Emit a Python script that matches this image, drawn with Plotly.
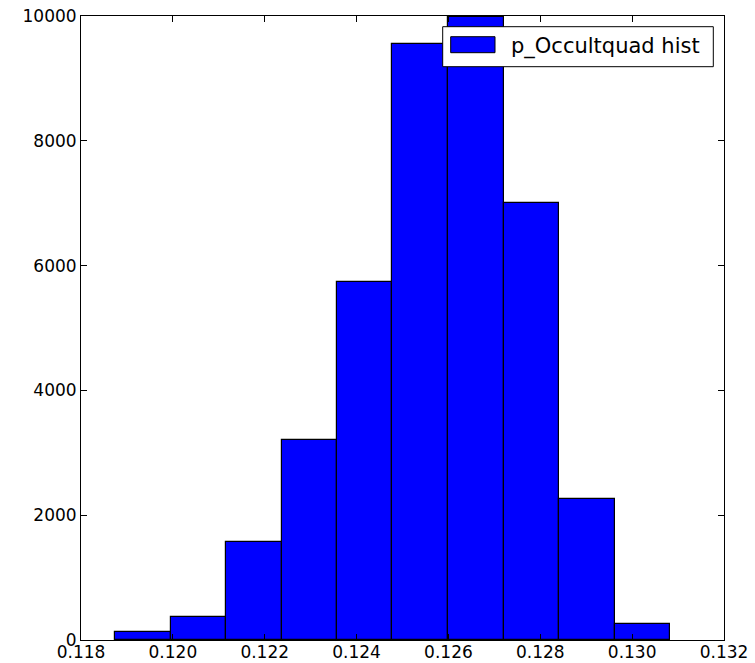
import plotly.graph_objects as go

# Histogram data
bin_edges = [0.11874, 0.11995, 0.12116, 0.12237, 0.12358, 0.12478,
             0.12599, 0.12720, 0.12841, 0.12962, 0.13082]
counts = [128, 364, 1565, 3205, 5737, 9551, 9990, 7003, 2260, 261]
series_name = "p_Occultquad hist"
x_ticks = [0.118, 0.120, 0.122, 0.124, 0.126, 0.128, 0.130, 0.132]
y_ticks = [0, 2000, 4000, 6000, 8000, 10000]

centers = [(a + b) / 2 for a, b in zip(bin_edges[:-1], bin_edges[1:])]
widths = [b - a for a, b in zip(bin_edges[:-1], bin_edges[1:])]

fig = go.Figure()
fig.add_trace(go.Bar(
    x=centers, y=counts, width=widths, name=series_name,
    marker=dict(color="#0000ff", line=dict(color="black", width=1.2)),
    showlegend=False,
))

W, H = 755, 663
L, R, T, B = 81, 31, 16, 23
pw, ph = W - L - R, H - T - B

def px(x):
    return (x - L) / pw

def py(y):
    return (H - B - y) / ph

font = dict(family="DejaVu Sans", size=17, color="black")

fig.update_layout(
    width=W, height=H,
    margin=dict(l=L, r=R, t=T, b=B, pad=0),
    paper_bgcolor="white", plot_bgcolor="white",
    bargap=0, font=font,
    xaxis=dict(range=[0.118, 0.132], tickvals=x_ticks,
               ticktext=[f"{v:.3f}" for v in x_ticks],
               ticks="inside", ticklen=6, tickcolor="black",
               showline=True, linecolor="black", linewidth=1, mirror="ticks",
               showgrid=False, zeroline=False, tickfont=font, automargin=False,
               ticklabelstandoff=-3),
    yaxis=dict(range=[0, 10000], tickvals=y_ticks,
               ticktext=[str(v) for v in y_ticks],
               ticks="inside", ticklen=6, tickcolor="black",
               showline=True, linecolor="black", linewidth=1, mirror="ticks",
               showgrid=False, zeroline=False, tickfont=font, automargin=False),
    shapes=[
        dict(type="rect", xref="paper", yref="paper",
             x0=px(442.7), x1=px(713.3), y0=py(66.7), y1=py(26.7),
             fillcolor="white", line=dict(color="black", width=1), layer="above"),
        dict(type="rect", xref="paper", yref="paper",
             x0=px(450.7), x1=px(495), y0=py(52.7), y1=py(36.7),
             fillcolor="#0000ff", line=dict(color="black", width=1), layer="above"),
    ],
    annotations=[
        dict(xref="paper", yref="paper", x=px(509), y=py(46),
             text=series_name, showarrow=False, xanchor="left", yanchor="middle",
             font=dict(family="DejaVu Sans", size=21, color="black")),
    ],
)

fig.write_html("out.html")
